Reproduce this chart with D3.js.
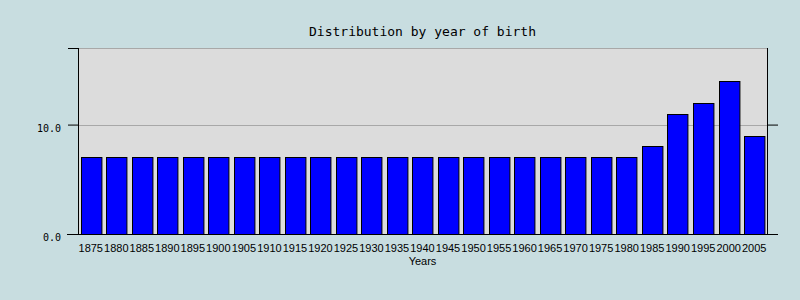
<!DOCTYPE html>
<html>
<head>
<meta charset="utf-8">
<script src="https://cdn.jsdelivr.net/npm/d3@7"></script>
<style>
  body { margin: 0; background: #c8dde0; }
  svg { display: block; }
  .title { font-family: "DejaVu Sans Mono", monospace; font-size: 13px; fill: #000; }
  .xlab { font-family: "Liberation Sans", Arial, sans-serif; font-size: 11px; fill: #000; }
  .ylab { font-family: "DejaVu Sans Mono", monospace; font-size: 10px; fill: #000; }
</style>
</head>
<body>
<div id="wrapper"></div>
<script>
// chart data
const years = ["1875","1880","1885","1890","1895","1900","1905","1910","1915","1920",
  "1925","1930","1935","1940","1945","1950","1955","1960","1965","1970",
  "1975","1980","1985","1990","1995","2000","2005"];
const counts = [7,7,7,7,7,7,7,7,7,7,7,7,7,7,7,7,7,7,7,7,7,7,8,11,12,14,9];
const yTicks = [0, 10];
const yMax = 17;

const W = 800, H = 300;
const margin = {top: 48, right: 33, bottom: 66, left: 78};
const width = W - margin.left - margin.right;
const height = H - margin.top - margin.bottom;

const svg = d3.select("#wrapper").append("svg")
  .attr("width", W).attr("height", H);

svg.append("rect").attr("width", W).attr("height", H).attr("fill", "#c8dde0");

const bounds = svg.append("g")
  .attr("transform", "translate(" + margin.left + "," + margin.top + ")");

const xScale = d3.scaleBand()
  .domain(years)
  .range([0, width])
  .paddingInner(0.2)
  .paddingOuter(0.1);

const yScale = d3.scaleLinear()
  .domain([0, yMax])
  .range([height, 0]);

// plot background
bounds.append("rect")
  .attr("width", width).attr("height", height)
  .attr("fill", "#dcdcdc");

// top border + grid
bounds.append("line")
  .attr("x1", 0).attr("x2", width).attr("y1", 0.5).attr("y2", 0.5)
  .attr("stroke", "#a8a8a8");
bounds.selectAll(".grid")
  .data(yTicks.filter(d => d > 0))
  .enter().append("line")
  .attr("x1", 0).attr("x2", width)
  .attr("y1", d => Math.round(yScale(d)) + 0.5)
  .attr("y2", d => Math.round(yScale(d)) + 0.5)
  .attr("stroke", "#a8a8a8");

// bars
bounds.selectAll(".bar")
  .data(counts)
  .enter().append("rect")
  .attr("x", (d, i) => Math.round(xScale(years[i])) + 0.5)
  .attr("y", d => Math.round(yScale(d)) + 0.5)
  .attr("width", xScale.bandwidth())
  .attr("height", d => height - Math.round(yScale(d)))
  .attr("fill", "#0000ff")
  .attr("stroke", "#000")
  .attr("stroke-width", 1);

// left axis
const yAxisL = d3.axisLeft(yScale).tickValues(yTicks.concat([yMax]))
  .tickSize(10).tickFormat("");
const gL = bounds.append("g").call(yAxisL);
gL.select(".domain").attr("d", "M0.5,0V" + height);
gL.selectAll("line").attr("stroke", "#000");

bounds.selectAll(".ylab")
  .data(yTicks)
  .enter().append("text")
  .attr("class", "ylab")
  .attr("x", -17)
  .attr("y", d => yScale(d) + 7)
  .attr("text-anchor", "end")
  .text(d => d3.format(".1f")(d));

// right axis
const yAxisR = d3.axisRight(yScale).tickValues(yTicks.filter(d => d > 0))
  .tickSize(11).tickFormat("");
const gR = bounds.append("g")
  .attr("transform", "translate(" + width + ",0)")
  .call(yAxisR);
gR.select(".domain").attr("d", "M0.5,0V" + height);
gR.selectAll("line").attr("stroke", "#000");

// x axis line
bounds.append("line")
  .attr("x1", -11).attr("x2", width + 11)
  .attr("y1", height + 0.5).attr("y2", height + 0.5)
  .attr("stroke", "#000");

// x labels
bounds.selectAll(".xlab")
  .data(years)
  .enter().append("text")
  .attr("class", "xlab")
  .attr("x", d => xScale(d) + xScale.bandwidth() / 2)
  .attr("y", height + 18)
  .attr("text-anchor", "middle")
  .text(d => d);

bounds.append("text")
  .attr("class", "xlab")
  .attr("x", width / 2)
  .attr("y", height + 31)
  .attr("text-anchor", "middle")
  .text("Years");

svg.append("text")
  .attr("class", "title")
  .attr("x", margin.left + width / 2)
  .attr("y", 36)
  .attr("text-anchor", "middle")
  .text("Distribution by year of birth");
</script>
</body>
</html>
